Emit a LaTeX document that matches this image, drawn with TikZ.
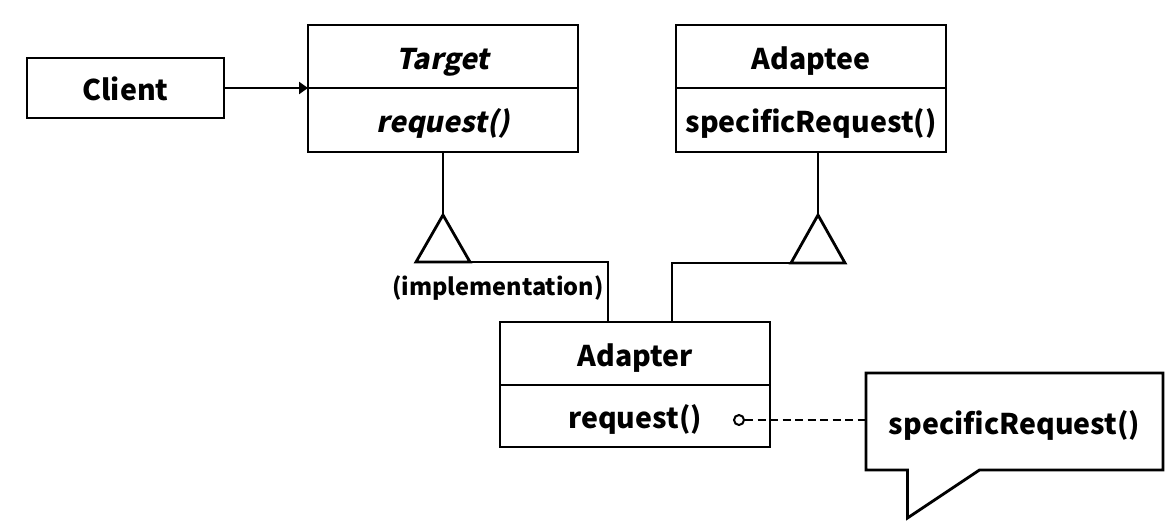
\documentclass[tikz,border=0pt]{standalone}
\usepackage{fontspec}
\setmainfont{Noto Sans CJK SC}
\newfontfamily\slbold{Noto Sans CJK SC}[BoldFeatures={FakeSlant=0.2}]
\usetikzlibrary{arrows.meta}
\begin{document}
\begin{tikzpicture}[x=1pt,y=-1pt,line width=2.8pt,
  cell/.style={draw,line width=2.8pt,minimum width=270pt,inner sep=0pt,outer sep=0pt,
    text height=26pt,text depth=1pt,
    font=\bfseries\fontsize{28.5}{33}\selectfont},
  lbl/.style={inner sep=0pt,outer sep=0pt,text height=26pt,text depth=1pt,
    font=\bfseries\fontsize{28.5}{33}\selectfont},
  slant/.style={font=\slbold\bfseries\fontsize{28.5}{33}\selectfont},
  small/.style={inner sep=0pt,font=\bfseries\fontsize{23.5}{28}\selectfont},
  gen/.style={draw,line width=2.8pt,fill=white,line join=miter}
]
\useasboundingbox (0,0) rectangle (1175,530);
% Client
\node[cell,minimum width=197pt,minimum height=60pt] (client) at (125.5,88) {Client};
% Target
\node[cell,slant,minimum height=63pt] (tgtT) at (443,56.5) {Target};
\node[cell,slant,minimum height=64pt,anchor=north] (tgtM) at (tgtT.south) {request()};
% Adaptee
\node[cell,minimum height=63pt] (adeT) at (811,56.5) {Adaptee};
\node[cell,minimum height=64pt,anchor=north] (adeM) at (adeT.south) {specificRequest()};
% Adapter
\node[cell,minimum height=63pt] (adrT) at (635,353.5) {Adapter};
\node[cell,minimum height=62pt,anchor=north] (adrM) at (adrT.south) {};
\node[lbl] (adrReq) at (635,416) {request()};
% Client -> Target
\draw[-{Triangle[length=9pt,width=12pt]}] (client.east) -- (tgtT.south west);
% Target generalization
\coordinate (tA) at (443,215);
\coordinate (tL) at (416,262);
\coordinate (tR) at (470,262);
\coordinate (tJ) at (608,262);
\draw (tgtM.south -| tA) -- (tA);
\draw (tL -| tA) -- (tJ) -- (tJ |- adrT.north);
\draw[gen] (tA) -- (tR) -- (tL) -- cycle;
\node[small,anchor=east] (impl) at (605,288) {(implementation)};
% Adaptee generalization
\coordinate (aA) at (818,215);
\coordinate (aL) at (791,263);
\coordinate (aR) at (845,263);
\coordinate (aJ) at (672,263);
\draw (adeM.south -| aA) -- (aA);
\draw (aR -| aA) -- (aJ) -- (aJ |- adrT.north);
\draw[gen] (aA) -- (aR) -- (aL) -- cycle;
% Callout
\node[lbl,minimum width=297pt,minimum height=97pt] (note) at (1014.5,421.5) {specificRequest()};
\draw[line join=miter] (note.north west) -- (note.north east) -- (note.south east)
  -- ([xshift=-35pt]note.south) -- ([xshift=-107pt,yshift=-48pt]note.south)
  -- ([xshift=-107pt]note.south) -- (note.south west) -- cycle;
% dot and dashed link
\node[circle,draw,line width=2pt,inner sep=0pt,minimum size=10pt,fill=white] (dot) at (739,420) {};
\draw[dashed,dash pattern=on 8pt off 4.5pt,line width=2.8pt] (dot.east) -- (dot.east -| note.west);
\end{tikzpicture}
\end{document}
